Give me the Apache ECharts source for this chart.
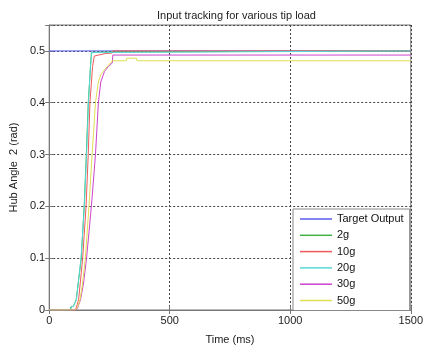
<!DOCTYPE html>
<html>
<head>
<meta charset="utf-8">
<script src="https://cdn.jsdelivr.net/npm/echarts@6/dist/echarts.min.js"></script>
<style>
  html, body { margin: 0; padding: 0; background: #fff; }
  #chart { width: 426px; height: 350px; }
</style>
</head>
<body>
<div id="chart"></div>
<script>
// tip loads (time in ms, hub angle in rad)
let names = ["Target Output", "2g", "10g", "20g", "30g", "50g"];
let colors = ["#5a5aec", "#45b045", "#ee5a5a", "#55d8d8", "#cc44cc", "#dede55"];

let targetT = [0, 1500];
let targetV = [0.5, 0.5];

let g2T = [0, 88, 90, 100, 112, 133, 145, 154, 162, 175, 262, 264, 1500];
let g2V = [0, 0, 0.006, 0.007, 0.02, 0.1, 0.2, 0.3, 0.4, 0.497, 0.498, 0.5, 0.5];

let g10T = [0, 106, 112, 122, 139, 153, 162, 169, 180, 187, 205, 235, 262, 265, 1500];
let g10V = [0, 0, 0.004, 0.02, 0.1, 0.2, 0.3, 0.4, 0.47, 0.49, 0.492, 0.495, 0.496, 0.5, 0.5];

let g20T = [0, 90, 92, 102, 113, 132, 146, 155, 163, 171, 177, 262, 264, 1500];
let g20V = [0, 0, 0.006, 0.008, 0.02, 0.1, 0.2, 0.3, 0.4, 0.47, 0.497, 0.497, 0.5, 0.5];

let g30T = [0, 110, 118, 130, 142, 155, 175, 192, 204, 214, 229, 245, 262, 264, 1500];
let g30V = [0, 0, 0.004, 0.02, 0.05, 0.1, 0.2, 0.3, 0.4, 0.44, 0.46, 0.47, 0.477, 0.492, 0.492];

let g50T = [0, 108, 118, 128, 138, 150, 165, 178, 192, 204, 215, 228, 245, 262, 320, 322, 362, 364, 1500];
let g50V = [0, 0, 0.005, 0.02, 0.05, 0.1, 0.2, 0.3, 0.4, 0.44, 0.455, 0.463, 0.472, 0.481, 0.481, 0.486, 0.486, 0.481, 0.481];

let xTicks = [0, 500, 1000, 1500];
let yTicks = [0, 0.1, 0.2, 0.3, 0.4, 0.5];

let allT = [targetT, g2T, g10T, g20T, g30T, g50T];
let allV = [targetV, g2V, g10V, g20V, g30V, g50V];

let font = "Liberation Sans, Arial, sans-serif";

let dom = document.getElementById("chart");
let myChart = echarts.init(dom, null, { renderer: "canvas" });

let series = names.map((n, i) => ({
  name: n,
  type: "line",
  symbol: "none",
  showSymbol: false,
  animation: false,
  color: colors[i],
  lineStyle: { width: 1, color: colors[i] },
  data: allT[i].map((t, k) => [t, allV[i][k]])
}));

let dotted = { show: true, lineStyle: { color: "#444", type: [2, 2], width: 1 } };

let option = {
  animation: false,
  backgroundColor: "#fff",
  title: {
    text: "Input tracking for various tip load",
    left: 152,
    top: 5,
    textStyle: { fontFamily: font, fontSize: 11, fontWeight: "normal", color: "#222" }
  },
  grid: {
    left: 48, right: 11, top: 25, bottom: 35,
    show: true, borderColor: "#777", borderWidth: 1, backgroundColor: "#fff"
  },
  legend: {
    orient: "vertical",
    left: 293,
    top: 209,
    icon: "rect",
    itemWidth: 32,
    itemHeight: 1.5,
    itemGap: 2.3,
    padding: [3, 6, 3, 7],
    backgroundColor: "#fff",
    borderColor: "#888",
    borderWidth: 1,
    textStyle: { fontFamily: font, fontSize: 11, color: "#111", lineHeight: 14 },
    data: names
  },
  xAxis: [
    {
      type: "value",
      min: 0, max: 1500, interval: 500,
      name: "Time (ms)",
      nameLocation: "middle",
      nameGap: 24,
      nameTextStyle: { fontFamily: font, fontSize: 11, color: "#222" },
      axisLine: { lineStyle: { color: "#777" } },
      axisTick: { inside: true, length: 4, lineStyle: { color: "#777" } },
      axisLabel: {
        fontFamily: font, fontSize: 11, color: "#222", margin: 5,
        formatter: v => xTicks.includes(v) ? String(v) : ""
      },
      splitLine: dotted
    },
    {
      type: "value", position: "top",
      min: 0, max: 1500, interval: 500,
      axisLine: { show: false },
      axisTick: { inside: true, length: 4, lineStyle: { color: "#777" } },
      axisLabel: { show: false },
      splitLine: { show: false }
    }
  ],
  yAxis: [
    {
      type: "value",
      min: 0, max: 0.55, interval: 0.1,
      name: "Hub Angle  2 (rad)",
      nameLocation: "middle",
      nameGap: 30,
      nameTextStyle: { fontFamily: font, fontSize: 11, color: "#222" },
      axisLine: { show: true, lineStyle: { color: "#777" } },
      axisTick: { show: true, inside: true, length: 4, lineStyle: { color: "#777" } },
      axisLabel: {
        fontFamily: font, fontSize: 11, color: "#222", margin: 4,
        formatter: v => {
          let r = Math.round(v * 10) / 10;
          return (Math.abs(r - v) < 1e-6 && yTicks.includes(r)) ? String(r) : "";
        }
      },
      splitLine: dotted
    },
    {
      type: "value", position: "right",
      min: 0, max: 0.55, interval: 0.1,
      axisLine: { show: false },
      axisTick: { show: true, inside: true, length: 4, lineStyle: { color: "#777" } },
      axisLabel: { show: false },
      splitLine: { show: false }
    }
  ],
  series: series
};

myChart.setOption(option);
</script>
</body>
</html>
